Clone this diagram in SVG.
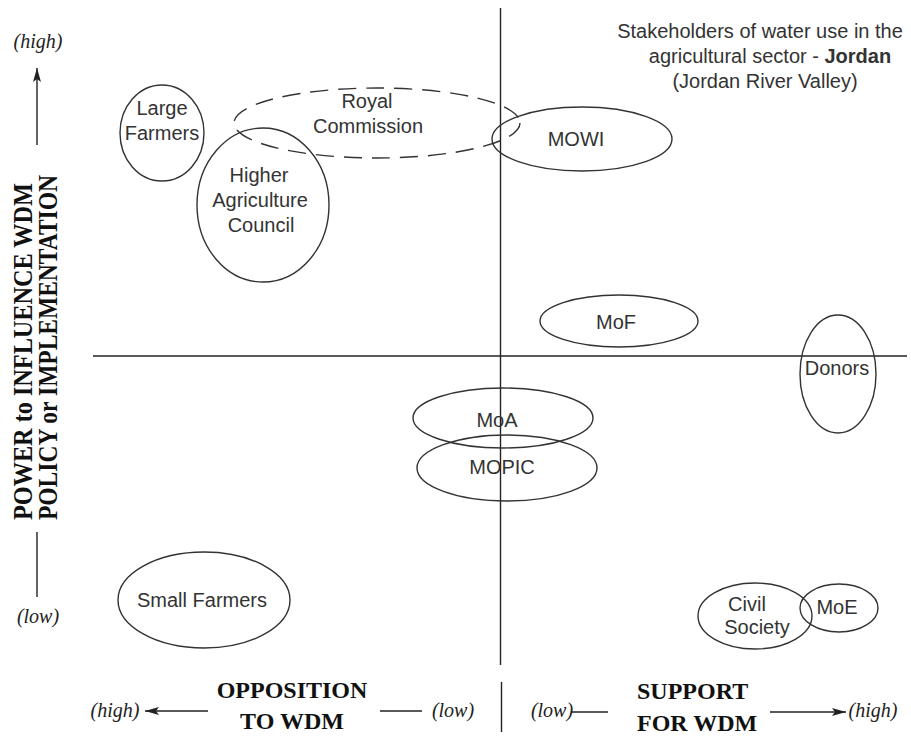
<svg xmlns="http://www.w3.org/2000/svg" width="911" height="740" viewBox="0 0 911 740">
<defs>
<marker id="ah" viewBox="0 0 14 8" refX="14" refY="4" markerWidth="14" markerHeight="8" markerUnits="userSpaceOnUse" orient="auto">
<path d="M0,0 L14,4 L0,8 L3,4 Z" fill="#222"/>
</marker>
</defs>
<style>
.node ellipse{fill:none;stroke:#333;stroke-width:1.4}
.dashed ellipse{stroke-dasharray:18 10}
.lbl{font-family:"Liberation Sans",Arial,sans-serif;font-size:20px;fill:#333;text-anchor:middle}
.ax{stroke:#222;stroke-width:1.4;fill:none}
.bold{font-family:"Liberation Serif","Times New Roman",serif;font-weight:bold;fill:#111}
.it{font-family:"Liberation Serif","Times New Roman",serif;font-style:italic;font-size:20px;fill:#222}
</style>
<rect width="911" height="740" fill="#fff"/>

<g id="connectors">
<line class="ax" x1="500.5" y1="8" x2="500.5" y2="665"/>
<line class="ax" x1="93" y1="356" x2="907" y2="356"/>
<line class="ax" x1="37" y1="145" x2="37" y2="68" marker-end="url(#ah)"/>
<line class="ax" x1="37" y1="532" x2="37" y2="597"/>
<line class="ax" x1="208" y1="711" x2="145" y2="711" marker-end="url(#ah)"/>
<line class="ax" x1="380" y1="711" x2="422" y2="711"/>
<line class="ax" x1="501.5" y1="682" x2="501.5" y2="732"/>
<line class="ax" x1="572" y1="712" x2="608" y2="712"/>
<line class="ax" x1="770" y1="712" x2="846" y2="712" marker-end="url(#ah)"/>
</g>

<g id="title">
<text class="lbl" x="760" y="38">Stakeholders of water use in the</text>
<text class="lbl" x="770" y="63">agricultural sector - <tspan font-weight="bold">Jordan</tspan></text>
<text class="lbl" x="765" y="88">(Jordan River Valley)</text>
</g>

<g id="large-farmers" class="node">
<ellipse cx="162" cy="133" rx="42" ry="48"/>
<text class="lbl" x="162" y="115">Large</text>
<text class="lbl" x="162" y="140">Farmers</text>
</g>
<g id="royal-commission" class="node dashed">
<ellipse cx="377" cy="123" rx="143" ry="35"/>
<text class="lbl" x="367" y="108">Royal</text>
<text class="lbl" x="368" y="133">Commission</text>
</g>
<g id="higher-agriculture-council" class="node">
<ellipse cx="263" cy="205" rx="66" ry="77"/>
<text class="lbl" x="259" y="182">Higher</text>
<text class="lbl" x="260" y="207">Agriculture</text>
<text class="lbl" x="261" y="232">Council</text>
</g>
<g id="mowi" class="node">
<ellipse cx="582" cy="139" rx="90" ry="32"/>
<text class="lbl" x="576" y="146">MOWI</text>
</g>
<g id="mof" class="node">
<ellipse cx="619" cy="321" rx="79" ry="26"/>
<text class="lbl" x="616" y="329">MoF</text>
</g>
<g id="donors" class="node">
<ellipse cx="838" cy="374" rx="38" ry="59"/>
<text class="lbl" x="837" y="375">Donors</text>
</g>
<g id="moa" class="node">
<ellipse cx="503" cy="418" rx="90" ry="30"/>
<text class="lbl" x="497" y="427">MoA</text>
</g>
<g id="mopic" class="node">
<ellipse cx="507" cy="468" rx="90" ry="33"/>
<text class="lbl" x="502" y="474">MOPIC</text>
</g>
<g id="small-farmers" class="node">
<ellipse cx="204" cy="600" rx="86" ry="48"/>
<text class="lbl" x="202" y="607">Small Farmers</text>
</g>
<g id="civil-society" class="node">
<ellipse cx="755" cy="616" rx="57" ry="33"/>
<text class="lbl" x="747" y="611">Civil</text>
<text class="lbl" x="757" y="634">Society</text>
</g>
<g id="moe" class="node">
<ellipse cx="839" cy="608" rx="39" ry="24"/>
<text class="lbl" x="837" y="614">MoE</text>
</g>

<g id="y-axis-labels">
<text class="it" x="38" y="48" text-anchor="middle">(high)</text>
<text class="it" x="38" y="623" text-anchor="middle">(low)</text>
<text class="bold" font-size="27" transform="translate(32,520) rotate(-90)" textLength="337" lengthAdjust="spacingAndGlyphs">POWER to INFLUENCE WDM</text>
<text class="bold" font-size="27" transform="translate(57,520) rotate(-90)" textLength="345" lengthAdjust="spacingAndGlyphs">POLICY or IMPLEMENTATION</text>
</g>

<g id="x-axis-labels">
<text class="it" x="115" y="717" text-anchor="middle">(high)</text>
<text class="bold" font-size="24" x="292" y="698" text-anchor="middle">OPPOSITION</text>
<text class="bold" font-size="24" x="292" y="729" text-anchor="middle">TO WDM</text>
<text class="it" x="453" y="717" text-anchor="middle">(low)</text>
<text class="it" x="552" y="717" text-anchor="middle">(low)</text>
<text class="bold" font-size="24" x="637" y="699">SUPPORT</text>
<text class="bold" font-size="24" x="637" y="731">FOR WDM</text>
<text class="it" x="873" y="717" text-anchor="middle">(high)</text>
</g>
</svg>
